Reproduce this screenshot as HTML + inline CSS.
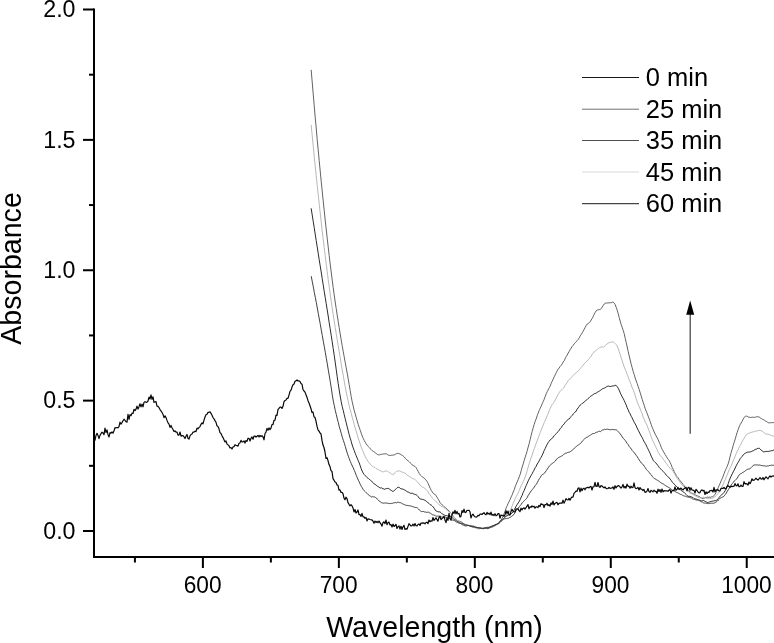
<!DOCTYPE html>
<html lang="en"><head><meta charset="utf-8"><title>Absorbance vs Wavelength</title>
<style>html,body{margin:0;padding:0;background:#fff;}body{width:774px;height:643px;overflow:hidden;}svg{display:block;}</style>
</head><body>
<svg width="774" height="643" viewBox="0 0 774 643">
<rect width="774" height="643" fill="#fff"/>
<defs><clipPath id="pc"><rect x="94" y="0" width="680" height="557"/></clipPath></defs>
<g clip-path="url(#pc)" fill="none" stroke-linejoin="round" stroke-linecap="round">
<path d="M311.2,70.2 L312.2,82.0 L313.2,93.9 L314.2,105.4 L315.2,117.1 L316.2,127.9 L317.2,139.5 L318.2,149.9 L319.2,160.6 L320.2,170.9 L321.2,181.3 L322.2,190.8 L323.2,200.8 L324.2,210.4 L325.2,220.1 L326.2,229.0 L327.2,238.2 L328.2,246.9 L329.2,255.7 L330.2,264.1 L331.2,272.0 L332.2,280.1 L333.2,287.6 L334.2,294.9 L335.2,302.0 L336.2,308.5 L337.2,315.1 L338.2,321.4 L339.2,327.7 L340.2,334.0 L341.2,339.8 L342.2,345.7 L343.2,351.3 L344.2,356.8 L345.2,362.3 L346.2,367.8 L347.2,373.1 L348.2,378.8 L349.2,384.6 L350.2,390.5 L351.2,396.7 L352.2,401.8 L353.2,406.1 L354.2,410.4 L355.2,413.8 L356.2,417.4 L357.2,420.9 L358.2,424.4 L359.2,427.2 L360.2,430.2 L361.2,433.2 L362.2,435.9 L363.2,438.3 L364.2,440.4 L365.2,442.2 L366.2,443.9 L367.2,445.2 L368.2,446.4 L369.2,447.5 L370.2,448.7 L371.2,449.5 L372.2,450.7 L373.2,451.3 L374.2,451.9 L375.2,452.8 L376.2,453.5 L377.2,454.3 L378.2,454.8 L379.2,455.0 L380.2,454.4 L381.2,454.3 L382.2,454.2 L383.2,454.0 L384.2,453.9 L385.2,453.8 L386.2,453.7 L387.2,454.4 L388.2,455.1 L389.2,455.3 L390.2,455.5 L391.2,455.3 L392.2,455.2 L393.2,455.1 L394.2,454.9 L395.2,454.4 L396.2,453.8 L397.2,453.3 L398.2,453.4 L399.2,453.6 L400.2,454.1 L401.2,454.7 L402.2,455.3 L403.2,456.1 L404.2,457.0 L405.2,458.1 L406.2,459.0 L407.2,460.0 L408.2,461.0 L409.2,461.8 L410.2,462.9 L411.2,463.7 L412.2,464.9 L413.2,465.5 L414.2,466.1 L415.2,466.5 L416.2,467.7 L417.2,469.6 L418.2,471.4 L419.2,473.4 L420.2,474.9 L421.2,475.8 L422.2,476.8 L423.2,477.5 L424.2,478.1 L425.2,479.3 L426.2,480.2 L427.2,481.8 L428.2,483.4 L429.2,486.0 L430.2,488.2 L431.2,490.3 L432.2,491.8 L433.2,493.3 L434.2,494.2 L435.2,494.4 L436.2,495.9 L437.2,497.5 L438.2,499.2 L439.2,500.9 L440.2,502.8 L441.2,503.9 L442.2,504.9 L443.2,505.6 L444.2,506.7 L445.2,507.5 L446.2,508.2 L447.2,509.3 L448.2,510.0 L449.2,511.2 L450.2,512.1 L451.2,513.4 L452.2,514.8 L453.2,516.4 L454.2,517.6 L455.2,518.6 L456.2,519.4 L457.2,520.2 L458.2,520.9 L459.2,521.1 L460.2,521.5 L461.2,521.9 L462.2,522.3 L463.2,523.5 L464.2,524.3 L465.2,524.4 L466.2,524.6 L467.2,524.8 L468.2,525.2 L469.2,525.7 L470.2,526.0 L471.2,526.6 L472.2,526.8 L473.2,527.2 L474.2,527.1 L475.2,527.1 L476.2,527.1 L477.2,527.5 L478.2,527.7 L479.2,528.4 L480.2,528.0 L481.2,528.2 L482.2,528.4 L483.2,528.5 L484.2,528.0 L485.2,528.0 L486.2,528.0 L487.2,528.3 L488.2,527.9 L489.2,527.8 L490.2,527.2 L491.2,526.5 L492.2,526.2 L493.2,525.7 L494.2,525.4 L495.2,524.9 L496.2,524.7 L497.2,524.6 L498.2,524.0 L499.2,523.1 L500.2,521.6 L501.2,520.1 L502.2,518.1 L503.2,516.0 L504.2,513.4 L505.2,510.8 L506.2,507.8 L507.2,505.7 L508.2,503.3 L509.2,501.3 L510.2,499.3 L511.2,496.9 L512.2,494.8 L513.2,492.0 L514.2,489.8 L515.2,486.7 L516.2,484.2 L517.2,481.9 L518.2,479.6 L519.2,476.9 L520.2,474.3 L521.2,470.6 L522.2,466.9 L523.2,463.9 L524.2,460.4 L525.2,457.1 L526.2,454.2 L527.2,450.7 L528.2,447.0 L529.2,443.5 L530.2,439.3 L531.2,435.3 L532.2,431.2 L533.2,427.8 L534.2,424.4 L535.2,421.3 L536.2,418.9 L537.2,415.6 L538.2,413.1 L539.2,410.5 L540.2,408.3 L541.2,406.1 L542.2,403.8 L543.2,401.6 L544.2,399.2 L545.2,396.4 L546.2,393.8 L547.2,391.7 L548.2,389.9 L549.2,387.8 L550.2,386.0 L551.2,383.4 L552.2,381.2 L553.2,379.1 L554.2,376.8 L555.2,374.8 L556.2,372.8 L557.2,370.8 L558.2,369.0 L559.2,368.0 L560.2,366.4 L561.2,365.3 L562.2,363.9 L563.2,361.9 L564.2,360.8 L565.2,358.6 L566.2,356.5 L567.2,355.1 L568.2,353.1 L569.2,351.4 L570.2,349.6 L571.2,348.1 L572.2,346.3 L573.2,345.3 L574.2,343.8 L575.2,342.7 L576.2,341.8 L577.2,340.6 L578.2,339.4 L579.2,337.9 L580.2,335.9 L581.2,334.4 L582.2,332.8 L583.2,331.1 L584.2,329.4 L585.2,327.3 L586.2,325.5 L587.2,324.0 L588.2,323.5 L589.2,322.6 L590.2,321.8 L591.2,320.0 L592.2,318.4 L593.2,316.5 L594.2,314.3 L595.2,312.4 L596.2,310.9 L597.2,309.9 L598.2,309.9 L599.2,309.6 L600.2,309.5 L601.2,308.7 L602.2,307.0 L603.2,305.5 L604.2,304.0 L605.2,303.2 L606.2,303.0 L607.2,303.0 L608.2,303.0 L609.2,302.7 L610.2,302.8 L611.2,302.8 L612.2,302.1 L613.2,302.1 L614.2,303.1 L615.2,304.7 L616.2,307.3 L617.2,310.1 L618.2,313.6 L619.2,317.6 L620.2,321.1 L621.2,324.5 L622.2,327.3 L623.2,330.5 L624.2,333.6 L625.2,338.3 L626.2,342.5 L627.2,347.0 L628.2,351.5 L629.2,355.9 L630.2,360.1 L631.2,364.2 L632.2,367.8 L633.2,371.5 L634.2,374.6 L635.2,377.9 L636.2,381.0 L637.2,383.5 L638.2,386.7 L639.2,389.5 L640.2,392.8 L641.2,396.0 L642.2,399.4 L643.2,402.3 L644.2,405.4 L645.2,408.6 L646.2,411.1 L647.2,413.5 L648.2,416.2 L649.2,418.8 L650.2,421.6 L651.2,424.5 L652.2,427.3 L653.2,429.5 L654.2,432.0 L655.2,434.1 L656.2,436.0 L657.2,437.8 L658.2,439.8 L659.2,442.2 L660.2,444.4 L661.2,447.2 L662.2,449.4 L663.2,451.1 L664.2,453.0 L665.2,454.5 L666.2,456.2 L667.2,457.9 L668.2,459.3 L669.2,460.7 L670.2,462.5 L671.2,464.8 L672.2,467.5 L673.2,469.3 L674.2,471.7 L675.2,473.4 L676.2,475.3 L677.2,476.8 L678.2,477.8 L679.2,479.6 L680.2,480.8 L681.2,482.0 L682.2,483.1 L683.2,484.6 L684.2,485.8 L685.2,487.6 L686.2,488.9 L687.2,490.3 L688.2,490.6 L689.2,491.0 L690.2,492.1 L691.2,492.9 L692.2,493.3 L693.2,493.6 L694.2,494.2 L695.2,494.8 L696.2,495.3 L697.2,495.8 L698.2,496.2 L699.2,496.5 L700.2,497.3 L701.2,497.8 L702.2,498.6 L703.2,498.3 L704.2,498.2 L705.2,497.6 L706.2,497.6 L707.2,497.0 L708.2,497.4 L709.2,497.1 L710.2,497.4 L711.2,496.9 L712.2,496.9 L713.2,496.3 L714.2,495.5 L715.2,494.0 L716.2,492.5 L717.2,490.0 L718.2,487.7 L719.2,485.4 L720.2,483.2 L721.2,480.7 L722.2,478.6 L723.2,476.1 L724.2,473.4 L725.2,470.7 L726.2,468.6 L727.2,466.3 L728.2,463.8 L729.2,460.3 L730.2,456.0 L731.2,452.4 L732.2,449.1 L733.2,445.5 L734.2,442.2 L735.2,439.2 L736.2,435.6 L737.2,432.3 L738.2,429.5 L739.2,426.8 L740.2,424.5 L741.2,423.0 L742.2,421.2 L743.2,419.2 L744.2,417.4 L745.2,416.5 L746.2,416.0 L747.2,416.4 L748.2,416.9 L749.2,417.2 L750.2,417.5 L751.2,417.4 L752.2,417.2 L753.2,417.2 L754.2,417.5 L755.2,417.1 L756.2,417.0 L757.2,416.6 L758.2,416.9 L759.2,417.0 L760.2,417.9 L761.2,418.3 L762.2,419.2 L763.2,419.6 L764.2,420.0 L765.2,420.9 L766.2,421.3 L767.2,422.0 L768.2,422.7 L769.2,422.8 L770.2,422.8 L771.2,422.7 L772.2,422.5 L773.2,422.7 L774.2,422.5" stroke="#626262" stroke-width="1.0"/>
<path d="M311.2,125.2 L312.2,135.7 L313.2,145.7 L314.2,156.4 L315.2,165.7 L316.2,175.6 L317.2,185.4 L318.2,194.5 L319.2,203.8 L320.2,212.8 L321.2,221.9 L322.2,230.9 L323.2,239.2 L324.2,247.4 L325.2,255.8 L326.2,263.7 L327.2,271.6 L328.2,279.4 L329.2,286.6 L330.2,294.0 L331.2,300.9 L332.2,307.8 L333.2,314.5 L334.2,320.9 L335.2,327.4 L336.2,333.6 L337.2,339.7 L338.2,345.7 L339.2,351.6 L340.2,357.7 L341.2,363.6 L342.2,369.9 L343.2,375.0 L344.2,381.1 L345.2,386.6 L346.2,392.0 L347.2,396.8 L348.2,401.2 L349.2,405.6 L350.2,409.6 L351.2,413.3 L352.2,417.2 L353.2,420.5 L354.2,424.6 L355.2,428.0 L356.2,431.1 L357.2,434.6 L358.2,437.9 L359.2,440.9 L360.2,444.0 L361.2,447.0 L362.2,449.5 L363.2,451.9 L364.2,454.3 L365.2,456.5 L366.2,458.6 L367.2,460.0 L368.2,461.6 L369.2,463.0 L370.2,464.0 L371.2,465.3 L372.2,466.2 L373.2,466.8 L374.2,467.4 L375.2,467.6 L376.2,468.6 L377.2,469.0 L378.2,469.4 L379.2,470.2 L380.2,470.7 L381.2,471.1 L382.2,471.8 L383.2,471.8 L384.2,471.6 L385.2,471.0 L386.2,471.2 L387.2,470.8 L388.2,471.8 L389.2,472.6 L390.2,472.9 L391.2,473.8 L392.2,474.3 L393.2,474.5 L394.2,473.9 L395.2,472.6 L396.2,471.5 L397.2,471.2 L398.2,470.9 L399.2,470.8 L400.2,471.3 L401.2,471.7 L402.2,472.1 L403.2,472.4 L404.2,472.9 L405.2,473.0 L406.2,474.3 L407.2,475.1 L408.2,475.7 L409.2,476.5 L410.2,476.6 L411.2,477.9 L412.2,478.4 L413.2,478.6 L414.2,479.1 L415.2,479.5 L416.2,480.7 L417.2,481.8 L418.2,482.9 L419.2,484.0 L420.2,485.2 L421.2,486.2 L422.2,486.9 L423.2,487.3 L424.2,488.0 L425.2,488.7 L426.2,489.6 L427.2,490.7 L428.2,492.0 L429.2,494.0 L430.2,495.0 L431.2,496.5 L432.2,497.9 L433.2,498.8 L434.2,499.8 L435.2,500.8 L436.2,501.8 L437.2,502.7 L438.2,503.5 L439.2,504.8 L440.2,505.3 L441.2,506.2 L442.2,506.7 L443.2,507.0 L444.2,507.8 L445.2,508.5 L446.2,509.6 L447.2,510.2 L448.2,511.3 L449.2,511.9 L450.2,512.3 L451.2,512.9 L452.2,514.3 L453.2,515.7 L454.2,517.1 L455.2,519.0 L456.2,519.5 L457.2,520.3 L458.2,520.8 L459.2,521.9 L460.2,522.7 L461.2,523.3 L462.2,523.7 L463.2,524.0 L464.2,524.0 L465.2,524.5 L466.2,524.4 L467.2,524.6 L468.2,524.9 L469.2,525.8 L470.2,526.1 L471.2,526.4 L472.2,527.0 L473.2,527.0 L474.2,527.3 L475.2,527.9 L476.2,528.5 L477.2,528.7 L478.2,528.8 L479.2,529.2 L480.2,528.3 L481.2,528.1 L482.2,527.3 L483.2,527.7 L484.2,527.9 L485.2,527.6 L486.2,527.3 L487.2,527.2 L488.2,526.8 L489.2,526.6 L490.2,526.9 L491.2,527.2 L492.2,527.1 L493.2,526.7 L494.2,526.4 L495.2,525.8 L496.2,524.9 L497.2,523.8 L498.2,523.1 L499.2,522.3 L500.2,521.7 L501.2,521.1 L502.2,520.2 L503.2,518.8 L504.2,517.7 L505.2,516.4 L506.2,515.9 L507.2,514.5 L508.2,513.4 L509.2,512.1 L510.2,510.3 L511.2,508.2 L512.2,505.9 L513.2,503.3 L514.2,501.0 L515.2,498.7 L516.2,496.5 L517.2,494.9 L518.2,492.9 L519.2,490.4 L520.2,488.1 L521.2,485.6 L522.2,483.8 L523.2,481.7 L524.2,479.3 L525.2,476.8 L526.2,474.0 L527.2,470.5 L528.2,467.1 L529.2,463.7 L530.2,460.4 L531.2,457.6 L532.2,455.0 L533.2,451.7 L534.2,448.7 L535.2,446.1 L536.2,443.2 L537.2,440.8 L538.2,437.8 L539.2,435.1 L540.2,432.5 L541.2,430.0 L542.2,427.7 L543.2,425.1 L544.2,422.6 L545.2,420.3 L546.2,418.1 L547.2,415.5 L548.2,413.7 L549.2,410.6 L550.2,408.4 L551.2,406.3 L552.2,404.6 L553.2,403.4 L554.2,401.8 L555.2,400.0 L556.2,398.2 L557.2,396.1 L558.2,394.4 L559.2,392.7 L560.2,391.2 L561.2,390.2 L562.2,389.4 L563.2,388.4 L564.2,387.1 L565.2,385.2 L566.2,383.9 L567.2,382.3 L568.2,380.7 L569.2,379.5 L570.2,378.6 L571.2,377.5 L572.2,376.6 L573.2,375.3 L574.2,374.3 L575.2,373.5 L576.2,372.7 L577.2,372.0 L578.2,370.9 L579.2,369.9 L580.2,368.6 L581.2,367.4 L582.2,366.3 L583.2,365.0 L584.2,363.9 L585.2,362.8 L586.2,361.8 L587.2,360.9 L588.2,359.8 L589.2,358.6 L590.2,357.2 L591.2,356.2 L592.2,354.4 L593.2,353.0 L594.2,352.0 L595.2,351.0 L596.2,350.2 L597.2,349.6 L598.2,348.6 L599.2,347.9 L600.2,347.5 L601.2,347.0 L602.2,346.8 L603.2,347.3 L604.2,346.6 L605.2,345.9 L606.2,345.0 L607.2,343.7 L608.2,343.1 L609.2,342.7 L610.2,342.4 L611.2,342.3 L612.2,342.0 L613.2,341.8 L614.2,342.5 L615.2,343.5 L616.2,344.5 L617.2,346.0 L618.2,348.5 L619.2,351.6 L620.2,354.5 L621.2,357.9 L622.2,360.7 L623.2,363.8 L624.2,366.9 L625.2,369.3 L626.2,371.7 L627.2,374.3 L628.2,376.9 L629.2,379.7 L630.2,382.0 L631.2,384.8 L632.2,387.9 L633.2,389.9 L634.2,392.3 L635.2,395.6 L636.2,398.6 L637.2,401.8 L638.2,404.3 L639.2,406.5 L640.2,409.0 L641.2,411.5 L642.2,413.9 L643.2,417.1 L644.2,419.4 L645.2,421.8 L646.2,423.5 L647.2,425.8 L648.2,428.3 L649.2,431.1 L650.2,433.9 L651.2,436.7 L652.2,439.4 L653.2,441.6 L654.2,443.6 L655.2,445.8 L656.2,447.6 L657.2,449.9 L658.2,452.2 L659.2,453.9 L660.2,455.6 L661.2,456.6 L662.2,457.8 L663.2,459.2 L664.2,460.3 L665.2,462.0 L666.2,463.2 L667.2,464.6 L668.2,466.1 L669.2,467.0 L670.2,468.5 L671.2,469.1 L672.2,469.9 L673.2,471.6 L674.2,473.3 L675.2,475.2 L676.2,476.7 L677.2,478.3 L678.2,479.8 L679.2,481.1 L680.2,482.4 L681.2,484.0 L682.2,484.9 L683.2,486.2 L684.2,487.2 L685.2,488.6 L686.2,489.7 L687.2,490.7 L688.2,491.5 L689.2,492.3 L690.2,493.1 L691.2,493.5 L692.2,494.1 L693.2,494.9 L694.2,495.5 L695.2,495.7 L696.2,496.4 L697.2,497.1 L698.2,497.3 L699.2,497.7 L700.2,498.1 L701.2,498.1 L702.2,497.5 L703.2,497.1 L704.2,497.3 L705.2,497.7 L706.2,498.3 L707.2,498.5 L708.2,498.7 L709.2,498.6 L710.2,498.6 L711.2,498.2 L712.2,498.4 L713.2,497.8 L714.2,497.2 L715.2,496.9 L716.2,495.7 L717.2,494.6 L718.2,493.2 L719.2,492.0 L720.2,490.3 L721.2,488.8 L722.2,486.5 L723.2,484.2 L724.2,481.6 L725.2,479.7 L726.2,477.2 L727.2,475.0 L728.2,472.3 L729.2,469.8 L730.2,467.8 L731.2,465.9 L732.2,463.3 L733.2,460.8 L734.2,458.5 L735.2,456.2 L736.2,453.6 L737.2,451.4 L738.2,449.3 L739.2,447.3 L740.2,445.5 L741.2,443.6 L742.2,441.4 L743.2,439.6 L744.2,438.1 L745.2,436.5 L746.2,435.0 L747.2,434.0 L748.2,433.3 L749.2,433.3 L750.2,432.6 L751.2,432.4 L752.2,432.2 L753.2,431.7 L754.2,431.7 L755.2,431.3 L756.2,430.9 L757.2,431.0 L758.2,430.6 L759.2,430.4 L760.2,430.4 L761.2,430.9 L762.2,431.0 L763.2,431.8 L764.2,432.9 L765.2,433.7 L766.2,434.1 L767.2,434.1 L768.2,434.2 L769.2,434.6 L770.2,434.9 L771.2,435.5 L772.2,435.8 L773.2,436.2 L774.2,435.6" stroke="#b8b8b8" stroke-width="1.0"/>
<path d="M311.2,208.7 L312.2,214.9 L313.2,221.3 L314.2,227.5 L315.2,234.1 L316.2,240.5 L317.2,246.9 L318.2,253.2 L319.2,259.6 L320.2,265.8 L321.2,271.9 L322.2,278.5 L323.2,284.8 L324.2,291.2 L325.2,297.3 L326.2,303.5 L327.2,309.8 L328.2,316.0 L329.2,322.7 L330.2,328.8 L331.2,335.2 L332.2,341.8 L333.2,348.5 L334.2,355.2 L335.2,362.1 L336.2,369.3 L337.2,376.7 L338.2,383.5 L339.2,390.0 L340.2,396.1 L341.2,401.6 L342.2,406.5 L343.2,410.3 L344.2,414.5 L345.2,418.7 L346.2,422.6 L347.2,426.8 L348.2,430.7 L349.2,434.7 L350.2,438.1 L351.2,441.3 L352.2,445.0 L353.2,447.9 L354.2,450.5 L355.2,453.3 L356.2,455.7 L357.2,458.1 L358.2,460.6 L359.2,462.8 L360.2,465.8 L361.2,468.7 L362.2,471.1 L363.2,473.1 L364.2,474.6 L365.2,475.7 L366.2,476.4 L367.2,477.7 L368.2,478.3 L369.2,479.3 L370.2,479.8 L371.2,480.9 L372.2,481.9 L373.2,482.7 L374.2,484.0 L375.2,484.4 L376.2,485.2 L377.2,486.0 L378.2,486.6 L379.2,487.4 L380.2,488.0 L381.2,487.7 L382.2,488.4 L383.2,488.7 L384.2,489.3 L385.2,489.0 L386.2,488.7 L387.2,488.4 L388.2,488.4 L389.2,488.7 L390.2,489.9 L391.2,490.3 L392.2,491.2 L393.2,491.3 L394.2,490.6 L395.2,489.8 L396.2,488.7 L397.2,487.7 L398.2,487.3 L399.2,487.4 L400.2,488.3 L401.2,488.8 L402.2,489.0 L403.2,489.2 L404.2,489.8 L405.2,490.2 L406.2,491.0 L407.2,491.7 L408.2,492.0 L409.2,492.5 L410.2,493.3 L411.2,493.3 L412.2,493.1 L413.2,493.7 L414.2,494.1 L415.2,494.5 L416.2,494.7 L417.2,495.5 L418.2,496.7 L419.2,498.2 L420.2,499.0 L421.2,499.2 L422.2,499.3 L423.2,499.5 L424.2,500.0 L425.2,500.4 L426.2,501.2 L427.2,502.1 L428.2,502.9 L429.2,503.6 L430.2,504.7 L431.2,505.0 L432.2,505.9 L433.2,506.9 L434.2,508.3 L435.2,510.0 L436.2,511.0 L437.2,511.5 L438.2,511.8 L439.2,511.8 L440.2,512.1 L441.2,512.8 L442.2,513.9 L443.2,514.5 L444.2,514.9 L445.2,515.5 L446.2,515.5 L447.2,515.8 L448.2,516.2 L449.2,516.1 L450.2,516.1 L451.2,516.8 L452.2,517.8 L453.2,518.7 L454.2,519.6 L455.2,519.9 L456.2,520.7 L457.2,521.3 L458.2,521.9 L459.2,522.7 L460.2,523.3 L461.2,523.8 L462.2,524.7 L463.2,524.9 L464.2,525.5 L465.2,525.8 L466.2,525.9 L467.2,525.6 L468.2,525.5 L469.2,525.6 L470.2,526.2 L471.2,526.3 L472.2,526.7 L473.2,526.8 L474.2,526.8 L475.2,527.6 L476.2,527.5 L477.2,527.5 L478.2,528.1 L479.2,527.8 L480.2,528.2 L481.2,528.5 L482.2,528.5 L483.2,528.4 L484.2,528.0 L485.2,527.9 L486.2,527.6 L487.2,527.7 L488.2,527.7 L489.2,527.5 L490.2,526.8 L491.2,526.5 L492.2,526.0 L493.2,525.6 L494.2,525.3 L495.2,524.6 L496.2,524.3 L497.2,523.8 L498.2,523.5 L499.2,523.1 L500.2,522.3 L501.2,521.3 L502.2,520.1 L503.2,519.2 L504.2,518.1 L505.2,517.1 L506.2,516.0 L507.2,515.7 L508.2,515.1 L509.2,514.6 L510.2,514.2 L511.2,513.8 L512.2,513.0 L513.2,511.7 L514.2,509.9 L515.2,508.0 L516.2,506.1 L517.2,504.5 L518.2,503.0 L519.2,501.5 L520.2,499.5 L521.2,497.2 L522.2,495.2 L523.2,492.4 L524.2,490.5 L525.2,487.9 L526.2,485.6 L527.2,483.3 L528.2,480.9 L529.2,478.9 L530.2,477.0 L531.2,475.4 L532.2,473.6 L533.2,471.6 L534.2,469.9 L535.2,467.7 L536.2,466.2 L537.2,464.0 L538.2,462.6 L539.2,460.8 L540.2,458.8 L541.2,457.2 L542.2,455.2 L543.2,453.0 L544.2,450.5 L545.2,448.6 L546.2,446.2 L547.2,444.4 L548.2,442.5 L549.2,441.2 L550.2,439.9 L551.2,439.0 L552.2,438.4 L553.2,437.0 L554.2,435.7 L555.2,434.6 L556.2,433.7 L557.2,432.4 L558.2,431.6 L559.2,430.2 L560.2,428.7 L561.2,427.7 L562.2,425.9 L563.2,425.0 L564.2,423.9 L565.2,422.4 L566.2,421.3 L567.2,420.2 L568.2,419.3 L569.2,419.0 L570.2,417.7 L571.2,416.4 L572.2,415.4 L573.2,414.0 L574.2,413.1 L575.2,412.0 L576.2,411.0 L577.2,409.1 L578.2,407.9 L579.2,406.4 L580.2,405.0 L581.2,404.4 L582.2,403.4 L583.2,403.0 L584.2,401.9 L585.2,401.0 L586.2,400.2 L587.2,399.6 L588.2,398.4 L589.2,397.7 L590.2,396.6 L591.2,395.9 L592.2,395.2 L593.2,394.6 L594.2,393.7 L595.2,393.5 L596.2,393.1 L597.2,392.3 L598.2,391.8 L599.2,391.2 L600.2,390.5 L601.2,389.8 L602.2,388.8 L603.2,388.6 L604.2,388.2 L605.2,387.7 L606.2,386.9 L607.2,386.5 L608.2,385.9 L609.2,386.4 L610.2,386.5 L611.2,386.3 L612.2,386.1 L613.2,385.9 L614.2,385.8 L615.2,385.3 L616.2,385.4 L617.2,386.7 L618.2,388.2 L619.2,390.1 L620.2,392.8 L621.2,394.8 L622.2,396.8 L623.2,398.5 L624.2,400.6 L625.2,402.8 L626.2,404.9 L627.2,407.8 L628.2,409.9 L629.2,412.3 L630.2,414.0 L631.2,416.3 L632.2,418.0 L633.2,420.1 L634.2,422.2 L635.2,423.9 L636.2,425.8 L637.2,428.1 L638.2,430.2 L639.2,432.0 L640.2,434.1 L641.2,436.0 L642.2,437.5 L643.2,439.7 L644.2,441.8 L645.2,443.3 L646.2,445.1 L647.2,447.4 L648.2,449.3 L649.2,451.5 L650.2,453.5 L651.2,456.1 L652.2,458.1 L653.2,460.3 L654.2,461.5 L655.2,462.5 L656.2,463.2 L657.2,464.8 L658.2,465.6 L659.2,467.4 L660.2,468.5 L661.2,469.3 L662.2,470.5 L663.2,471.4 L664.2,472.5 L665.2,473.7 L666.2,475.1 L667.2,475.9 L668.2,476.9 L669.2,477.9 L670.2,479.1 L671.2,480.4 L672.2,482.1 L673.2,483.0 L674.2,484.1 L675.2,485.2 L676.2,486.1 L677.2,487.2 L678.2,488.0 L679.2,489.1 L680.2,489.5 L681.2,490.4 L682.2,491.0 L683.2,491.9 L684.2,492.4 L685.2,493.6 L686.2,494.5 L687.2,495.6 L688.2,496.4 L689.2,496.3 L690.2,496.4 L691.2,496.7 L692.2,497.3 L693.2,497.6 L694.2,498.6 L695.2,498.9 L696.2,499.1 L697.2,499.4 L698.2,499.8 L699.2,500.1 L700.2,500.5 L701.2,500.9 L702.2,500.8 L703.2,500.4 L704.2,500.9 L705.2,501.3 L706.2,501.9 L707.2,502.4 L708.2,502.4 L709.2,502.2 L710.2,501.6 L711.2,501.4 L712.2,501.2 L713.2,501.1 L714.2,500.7 L715.2,500.8 L716.2,500.4 L717.2,499.9 L718.2,498.7 L719.2,497.4 L720.2,496.2 L721.2,495.2 L722.2,494.2 L723.2,493.5 L724.2,492.3 L725.2,490.6 L726.2,488.8 L727.2,486.3 L728.2,483.8 L729.2,480.8 L730.2,478.1 L731.2,476.0 L732.2,473.9 L733.2,471.9 L734.2,470.1 L735.2,468.0 L736.2,465.8 L737.2,463.9 L738.2,462.3 L739.2,460.6 L740.2,458.6 L741.2,457.5 L742.2,456.3 L743.2,454.9 L744.2,454.0 L745.2,453.3 L746.2,452.8 L747.2,452.2 L748.2,452.1 L749.2,452.1 L750.2,451.9 L751.2,451.7 L752.2,451.0 L753.2,450.8 L754.2,450.1 L755.2,449.4 L756.2,449.3 L757.2,448.6 L758.2,448.3 L759.2,448.2 L760.2,449.0 L761.2,450.0 L762.2,451.0 L763.2,451.8 L764.2,451.8 L765.2,451.5 L766.2,451.6 L767.2,451.4 L768.2,451.4 L769.2,451.3 L770.2,451.0 L771.2,450.7 L772.2,450.8 L773.2,450.1 L774.2,450.2" stroke="#2a2a2a" stroke-width="1.0"/>
<path d="M311.3,276.6 L312.3,281.8 L313.3,286.8 L314.3,292.3 L315.3,297.4 L316.3,302.5 L317.3,308.0 L318.3,313.6 L319.3,319.0 L320.3,324.3 L321.3,330.1 L322.3,335.6 L323.3,341.2 L324.3,346.8 L325.3,352.3 L326.3,358.2 L327.3,363.9 L328.3,370.1 L329.3,375.9 L330.3,381.9 L331.3,388.1 L332.3,395.1 L333.3,401.1 L334.3,405.7 L335.3,410.6 L336.3,414.5 L337.3,418.9 L338.3,422.5 L339.3,426.8 L340.3,430.0 L341.3,433.6 L342.3,437.2 L343.3,440.3 L344.3,443.2 L345.3,446.5 L346.3,450.0 L347.3,453.3 L348.3,456.2 L349.3,458.8 L350.3,461.5 L351.3,463.6 L352.3,466.0 L353.3,467.9 L354.3,470.4 L355.3,472.8 L356.3,475.4 L357.3,477.7 L358.3,480.2 L359.3,482.1 L360.3,484.4 L361.3,486.4 L362.3,487.8 L363.3,489.6 L364.3,490.8 L365.3,491.7 L366.3,492.8 L367.3,493.5 L368.3,494.7 L369.3,495.5 L370.3,496.1 L371.3,496.9 L372.3,496.8 L373.3,496.8 L374.3,496.8 L375.3,497.4 L376.3,497.9 L377.3,499.2 L378.3,500.0 L379.3,501.0 L380.3,502.0 L381.3,502.6 L382.3,502.9 L383.3,503.2 L384.3,502.9 L385.3,503.1 L386.3,503.1 L387.3,503.1 L388.3,503.4 L389.3,503.6 L390.3,503.5 L391.3,503.4 L392.3,503.4 L393.3,502.9 L394.3,502.8 L395.3,502.5 L396.3,502.9 L397.3,502.4 L398.3,502.2 L399.3,502.6 L400.3,502.6 L401.3,503.1 L402.3,503.7 L403.3,504.2 L404.3,504.6 L405.3,505.1 L406.3,505.3 L407.3,505.4 L408.3,505.7 L409.3,505.7 L410.3,505.9 L411.3,506.2 L412.3,506.5 L413.3,506.9 L414.3,507.1 L415.3,507.5 L416.3,507.4 L417.3,507.9 L418.3,508.8 L419.3,510.0 L420.3,510.8 L421.3,511.6 L422.3,511.5 L423.3,511.4 L424.3,511.9 L425.3,512.0 L426.3,512.3 L427.3,512.3 L428.3,512.1 L429.3,512.7 L430.3,513.2 L431.3,513.9 L432.3,514.7 L433.3,514.9 L434.3,515.2 L435.3,515.8 L436.3,516.1 L437.3,516.1 L438.3,516.2 L439.3,516.1 L440.3,516.2 L441.3,517.0 L442.3,517.0 L443.3,516.8 L444.3,516.6 L445.3,517.1 L446.3,517.4 L447.3,517.8 L448.3,518.3 L449.3,518.6 L450.3,519.1 L451.3,519.7 L452.3,520.0 L453.3,520.3 L454.3,520.5 L455.3,521.3 L456.3,521.9 L457.3,522.5 L458.3,522.9 L459.3,523.1 L460.3,523.3 L461.3,523.2 L462.3,523.4 L463.3,523.6 L464.3,524.2 L465.3,524.8 L466.3,524.9 L467.3,525.5 L468.3,525.5 L469.3,525.7 L470.3,525.8 L471.3,525.8 L472.3,526.1 L473.3,525.9 L474.3,526.4 L475.3,527.0 L476.3,527.3 L477.3,527.7 L478.3,527.5 L479.3,527.8 L480.3,527.8 L481.3,528.2 L482.3,528.5 L483.3,528.8 L484.3,528.5 L485.3,528.5 L486.3,528.2 L487.3,528.7 L488.3,528.4 L489.3,528.1 L490.3,527.5 L491.3,527.2 L492.3,526.9 L493.3,526.2 L494.3,525.8 L495.3,525.4 L496.3,524.8 L497.3,524.0 L498.3,523.0 L499.3,522.3 L500.3,520.6 L501.3,520.0 L502.3,519.6 L503.3,519.3 L504.3,518.9 L505.3,518.7 L506.3,518.6 L507.3,518.3 L508.3,518.3 L509.3,517.7 L510.3,517.3 L511.3,516.7 L512.3,516.0 L513.3,515.0 L514.3,513.8 L515.3,512.0 L516.3,510.3 L517.3,508.9 L518.3,508.3 L519.3,506.7 L520.3,505.5 L521.3,504.3 L522.3,502.6 L523.3,501.6 L524.3,500.7 L525.3,499.7 L526.3,498.8 L527.3,497.4 L528.3,495.2 L529.3,493.9 L530.3,492.2 L531.3,490.8 L532.3,489.6 L533.3,488.3 L534.3,487.1 L535.3,485.4 L536.3,484.2 L537.3,482.6 L538.3,480.6 L539.3,478.7 L540.3,477.4 L541.3,475.5 L542.3,474.7 L543.3,474.1 L544.3,473.4 L545.3,472.0 L546.3,470.6 L547.3,469.1 L548.3,467.6 L549.3,466.0 L550.3,465.1 L551.3,464.2 L552.3,463.5 L553.3,462.7 L554.3,462.0 L555.3,461.1 L556.3,459.4 L557.3,458.7 L558.3,457.8 L559.3,457.2 L560.3,456.8 L561.3,456.2 L562.3,455.7 L563.3,454.7 L564.3,454.0 L565.3,453.3 L566.3,453.2 L567.3,452.6 L568.3,452.3 L569.3,452.2 L570.3,451.6 L571.3,450.9 L572.3,450.2 L573.3,449.4 L574.3,448.2 L575.3,447.3 L576.3,446.5 L577.3,445.7 L578.3,445.1 L579.3,444.3 L580.3,443.6 L581.3,442.5 L582.3,441.1 L583.3,440.2 L584.3,439.3 L585.3,438.1 L586.3,437.4 L587.3,437.2 L588.3,436.4 L589.3,435.9 L590.3,435.2 L591.3,434.6 L592.3,433.8 L593.3,433.5 L594.3,433.6 L595.3,432.8 L596.3,432.3 L597.3,432.2 L598.3,431.6 L599.3,431.2 L600.3,431.7 L601.3,430.8 L602.3,430.1 L603.3,430.0 L604.3,429.3 L605.3,429.5 L606.3,429.3 L607.3,429.2 L608.3,429.4 L609.3,429.6 L610.3,429.7 L611.3,429.7 L612.3,429.4 L613.3,429.5 L614.3,429.8 L615.3,429.7 L616.3,429.8 L617.3,430.7 L618.3,431.7 L619.3,432.8 L620.3,433.9 L621.3,435.4 L622.3,437.0 L623.3,438.4 L624.3,439.3 L625.3,440.6 L626.3,442.0 L627.3,443.6 L628.3,444.7 L629.3,446.7 L630.3,447.7 L631.3,449.1 L632.3,450.6 L633.3,451.6 L634.3,452.9 L635.3,454.0 L636.3,455.5 L637.3,456.8 L638.3,458.5 L639.3,460.1 L640.3,461.5 L641.3,463.0 L642.3,463.9 L643.3,464.6 L644.3,466.4 L645.3,467.7 L646.3,469.4 L647.3,470.4 L648.3,471.4 L649.3,472.6 L650.3,474.0 L651.3,474.9 L652.3,476.4 L653.3,477.5 L654.3,478.6 L655.3,479.0 L656.3,479.6 L657.3,480.2 L658.3,480.8 L659.3,481.5 L660.3,482.3 L661.3,483.0 L662.3,483.6 L663.3,483.9 L664.3,484.7 L665.3,485.5 L666.3,486.1 L667.3,486.7 L668.3,487.2 L669.3,487.8 L670.3,488.3 L671.3,489.2 L672.3,490.4 L673.3,490.8 L674.3,491.0 L675.3,491.6 L676.3,492.3 L677.3,492.6 L678.3,493.1 L679.3,493.7 L680.3,494.4 L681.3,494.5 L682.3,495.1 L683.3,495.7 L684.3,496.0 L685.3,496.2 L686.3,496.7 L687.3,496.9 L688.3,497.1 L689.3,497.3 L690.3,497.7 L691.3,497.9 L692.3,498.8 L693.3,499.2 L694.3,499.2 L695.3,499.7 L696.3,500.0 L697.3,500.1 L698.3,500.0 L699.3,500.6 L700.3,501.1 L701.3,501.8 L702.3,502.0 L703.3,502.8 L704.3,503.0 L705.3,503.1 L706.3,503.3 L707.3,503.4 L708.3,503.7 L709.3,503.5 L710.3,503.3 L711.3,503.2 L712.3,503.2 L713.3,503.3 L714.3,503.0 L715.3,502.5 L716.3,501.9 L717.3,501.1 L718.3,500.1 L719.3,499.2 L720.3,498.0 L721.3,497.6 L722.3,497.1 L723.3,496.8 L724.3,495.8 L725.3,494.5 L726.3,493.0 L727.3,491.1 L728.3,489.7 L729.3,488.1 L730.3,486.5 L731.3,484.9 L732.3,483.6 L733.3,482.4 L734.3,481.0 L735.3,480.3 L736.3,479.3 L737.3,478.0 L738.3,476.2 L739.3,474.8 L740.3,473.8 L741.3,473.5 L742.3,472.6 L743.3,472.2 L744.3,471.6 L745.3,470.8 L746.3,470.0 L747.3,469.4 L748.3,469.1 L749.3,469.0 L750.3,468.4 L751.3,467.5 L752.3,466.5 L753.3,465.3 L754.3,465.0 L755.3,464.9 L756.3,464.9 L757.3,465.0 L758.3,465.2 L759.3,464.9 L760.3,465.2 L761.3,465.5 L762.3,465.6 L763.3,465.8 L764.3,465.9 L765.3,465.9 L766.3,466.3 L767.3,465.9 L768.3,466.0 L769.3,465.5 L770.3,465.5 L771.3,465.2 L772.3,465.2 L773.3,465.3 L774.3,465.0" stroke="#404040" stroke-width="1.0"/>
<path d="M94.0,437.5 L95.0,440.3 L96.0,435.4 L97.0,433.3 L98.0,435.4 L99.0,438.6 L100.0,435.4 L101.0,433.7 L102.0,432.2 L103.0,432.9 L104.0,434.7 L105.0,428.2 L106.0,432.6 L107.0,429.9 L108.0,434.7 L109.0,437.0 L110.0,432.6 L111.0,433.2 L112.0,432.0 L113.0,433.2 L114.0,430.7 L115.0,427.7 L116.0,427.8 L117.0,427.5 L118.0,427.8 L119.0,426.7 L120.0,422.2 L121.0,424.1 L122.0,422.6 L123.0,420.8 L124.0,419.2 L125.0,420.3 L126.0,421.7 L127.0,422.2 L128.0,414.4 L129.0,419.4 L130.0,414.6 L131.0,415.7 L132.0,413.2 L133.0,413.5 L134.0,409.3 L135.0,410.7 L136.0,409.2 L137.0,406.1 L138.0,409.1 L139.0,406.7 L140.0,403.8 L141.0,406.9 L142.0,404.1 L143.0,406.8 L144.0,402.4 L145.0,401.6 L146.0,402.4 L147.0,402.1 L148.0,401.0 L149.0,397.1 L150.0,399.0 L151.0,394.9 L152.0,399.4 L153.0,396.8 L154.0,402.3 L155.0,401.9 L156.0,401.6 L157.0,406.1 L158.0,406.4 L159.0,407.6 L160.0,409.6 L161.0,410.9 L162.0,412.5 L163.0,414.3 L164.0,417.6 L165.0,415.8 L166.0,417.6 L167.0,420.4 L168.0,422.9 L169.0,424.1 L170.0,427.4 L171.0,425.4 L172.0,427.8 L173.0,429.5 L174.0,431.5 L175.0,430.8 L176.0,432.2 L177.0,432.0 L178.0,435.1 L179.0,435.1 L180.0,432.0 L181.0,436.2 L182.0,435.5 L183.0,435.7 L184.0,436.8 L185.0,438.5 L186.0,436.3 L187.0,434.5 L188.0,438.3 L189.0,439.1 L190.0,435.8 L191.0,434.5 L192.0,434.0 L193.0,432.0 L194.0,432.1 L195.0,431.1 L196.0,431.7 L197.0,428.1 L198.0,428.8 L199.0,427.5 L200.0,426.6 L201.0,424.3 L202.0,422.8 L203.0,423.8 L204.0,420.1 L205.0,417.0 L206.0,414.8 L207.0,414.2 L208.0,412.4 L209.0,412.3 L210.0,411.8 L211.0,413.3 L212.0,415.3 L213.0,417.5 L214.0,418.8 L215.0,420.6 L216.0,422.3 L217.0,425.8 L218.0,426.6 L219.0,428.8 L220.0,432.6 L221.0,433.5 L222.0,435.7 L223.0,437.6 L224.0,439.8 L225.0,442.0 L226.0,441.0 L227.0,444.1 L228.0,444.9 L229.0,445.7 L230.0,448.0 L231.0,447.5 L232.0,449.0 L233.0,446.9 L234.0,446.7 L235.0,444.7 L236.0,445.2 L237.0,445.6 L238.0,446.1 L239.0,443.2 L240.0,442.9 L241.0,440.4 L242.0,441.8 L243.0,441.8 L244.0,440.8 L245.0,443.1 L246.0,440.5 L247.0,441.4 L248.0,438.3 L249.0,438.3 L250.0,441.0 L251.0,438.3 L252.0,436.9 L253.0,439.2 L254.0,436.2 L255.0,436.0 L256.0,437.1 L257.0,436.2 L258.0,435.4 L259.0,437.0 L260.0,435.4 L261.0,436.7 L262.0,435.7 L263.0,436.8 L264.0,439.8 L265.0,433.5 L266.0,432.1 L267.0,428.3 L268.0,430.2 L269.0,427.9 L270.0,429.7 L271.0,428.2 L272.0,424.6 L273.0,424.5 L274.0,420.4 L275.0,420.2 L276.0,415.2 L277.0,415.3 L278.0,409.5 L279.0,408.4 L280.0,407.2 L281.0,407.1 L282.0,408.4 L283.0,406.3 L284.0,401.6 L285.0,400.5 L286.0,400.0 L287.0,398.4 L288.0,398.3 L289.0,395.1 L290.0,391.3 L291.0,390.2 L292.0,387.1 L293.0,384.8 L294.0,384.1 L295.0,381.3 L296.0,380.9 L297.0,380.0 L298.0,381.0 L299.0,380.8 L300.0,381.6 L301.0,383.6 L302.0,384.2 L303.0,389.5 L304.0,391.0 L305.0,392.1 L306.0,394.8 L307.0,397.3 L308.0,400.7 L309.0,402.9 L310.0,405.7 L311.0,408.7 L312.0,412.5 L313.0,412.0 L314.0,416.8 L315.0,417.5 L316.0,421.1 L317.0,426.2 L318.0,429.9 L319.0,431.1 L320.0,432.9 L321.0,434.0 L322.0,440.4 L323.0,445.1 L324.0,447.5 L325.0,452.0 L326.0,458.5 L327.0,457.6 L328.0,460.6 L329.0,464.6 L330.0,466.6 L331.0,470.6 L332.0,471.5 L333.0,478.7 L334.0,480.2 L335.0,481.9 L336.0,482.6 L337.0,484.9 L338.0,485.3 L339.0,490.1 L340.0,489.9 L341.0,492.5 L342.0,492.4 L343.0,493.7 L344.0,498.1 L345.0,499.7 L346.0,497.2 L347.0,498.6 L348.0,502.6 L349.0,504.3 L350.0,505.8 L351.0,504.6 L352.0,505.8 L353.0,507.9 L354.0,511.9 L355.0,509.5 L356.0,513.0 L357.0,512.0 L358.0,510.0 L359.0,514.6 L360.0,514.5 L361.0,516.4 L362.0,513.4 L363.0,516.9 L364.0,516.9 L365.0,518.3 L366.0,517.3 L367.0,520.9 L368.0,518.8 L369.0,519.1 L370.0,519.5 L371.0,519.8 L372.0,519.8 L373.0,521.1 L374.0,523.2 L375.0,521.1 L376.0,522.5 L377.0,521.3 L378.0,522.7 L379.0,521.1 L380.0,522.6 L381.0,524.1 L382.0,526.2 L383.0,522.7 L384.0,521.8 L385.0,523.6 L386.0,520.0 L387.0,524.6 L388.0,522.7 L389.0,522.1 L390.0,525.0 L391.0,524.6 L392.0,527.0 L393.0,524.1 L394.0,526.5 L395.0,525.5 L396.0,524.5 L397.0,528.5 L398.0,526.8 L399.0,525.9 L400.0,529.1 L401.0,526.2 L402.0,529.5 L403.0,526.8 L404.0,525.3 L405.0,529.5 L406.0,528.6 L407.0,529.2 L408.0,526.4 L409.0,523.7 L410.0,524.8 L411.0,526.0 L412.0,525.7 L413.0,524.2 L414.0,525.9 L415.0,523.6 L416.0,525.7 L417.0,525.8 L418.0,524.5 L419.0,523.9 L420.0,525.4 L421.0,523.1 L422.0,523.1 L423.0,522.9 L424.0,523.1 L425.0,523.8 L426.0,522.5 L427.0,522.2 L428.0,523.7 L429.0,520.0 L430.0,521.7 L431.0,520.8 L432.0,521.2 L433.0,517.5 L434.0,520.5 L435.0,519.1 L436.0,517.8 L437.0,519.7 L438.0,521.2 L439.0,517.5 L440.0,516.5 L441.0,519.6 L442.0,518.6 L443.0,517.8 L444.0,516.4 L445.0,520.2 L446.0,522.6 L447.0,517.9 L448.0,520.4 L449.0,513.3 L450.0,518.2 L451.0,520.2 L452.0,514.7 L453.0,511.9 L454.0,513.5 L455.0,510.3 L456.0,513.8 L457.0,511.4 L458.0,514.0 L459.0,513.4 L460.0,517.0 L461.0,516.2 L462.0,510.6 L463.0,512.4 L464.0,509.1 L465.0,512.6 L466.0,512.3 L467.0,510.3 L468.0,510.5 L469.0,510.2 L470.0,511.8 L471.0,518.0 L472.0,515.1 L473.0,514.1 L474.0,515.9 L475.0,516.8 L476.0,517.2 L477.0,516.7 L478.0,515.3 L479.0,515.8 L480.0,514.2 L481.0,514.1 L482.0,514.5 L483.0,513.4 L484.0,512.7 L485.0,514.2 L486.0,514.8 L487.0,512.4 L488.0,514.1 L489.0,513.1 L490.0,514.7 L491.0,512.1 L492.0,515.3 L493.0,514.5 L494.0,515.5 L495.0,513.7 L496.0,515.8 L497.0,515.2 L498.0,513.6 L499.0,513.6 L500.0,518.2 L501.0,515.0 L502.0,515.5 L503.0,515.4 L504.0,516.3 L505.0,514.9 L506.0,510.6 L507.0,513.8 L508.0,511.0 L509.0,514.6 L510.0,515.1 L511.0,511.5 L512.0,509.2 L513.0,511.1 L514.0,511.8 L515.0,512.0 L516.0,508.9 L517.0,509.0 L518.0,508.7 L519.0,510.6 L520.0,511.7 L521.0,508.2 L522.0,509.9 L523.0,508.4 L524.0,507.8 L525.0,509.1 L526.0,507.7 L527.0,506.1 L528.0,504.6 L529.0,508.8 L530.0,506.8 L531.0,507.3 L532.0,505.8 L533.0,506.8 L534.0,506.2 L535.0,508.2 L536.0,506.9 L537.0,506.9 L538.0,507.6 L539.0,505.3 L540.0,506.6 L541.0,503.7 L542.0,504.5 L543.0,504.4 L544.0,507.6 L545.0,504.5 L546.0,504.8 L547.0,503.2 L548.0,505.7 L549.0,504.6 L550.0,506.2 L551.0,502.9 L552.0,504.5 L553.0,501.1 L554.0,505.0 L555.0,503.4 L556.0,502.8 L557.0,502.4 L558.0,504.8 L559.0,503.3 L560.0,503.1 L561.0,503.0 L562.0,503.3 L563.0,500.1 L564.0,503.1 L565.0,501.3 L566.0,498.6 L567.0,499.7 L568.0,500.0 L569.0,498.4 L570.0,500.2 L571.0,498.2 L572.0,497.0 L573.0,497.1 L574.0,493.4 L575.0,492.3 L576.0,491.0 L577.0,491.4 L578.0,488.2 L579.0,487.8 L580.0,491.8 L581.0,488.1 L582.0,490.8 L583.0,488.8 L584.0,488.2 L585.0,489.8 L586.0,487.9 L587.0,487.6 L588.0,487.2 L589.0,487.9 L590.0,486.8 L591.0,486.4 L592.0,490.0 L593.0,486.8 L594.0,486.6 L595.0,482.4 L596.0,486.5 L597.0,486.5 L598.0,482.5 L599.0,486.5 L600.0,487.4 L601.0,485.6 L602.0,486.0 L603.0,487.0 L604.0,487.8 L605.0,486.8 L606.0,488.3 L607.0,488.8 L608.0,488.5 L609.0,487.4 L610.0,488.3 L611.0,488.2 L612.0,488.0 L613.0,486.9 L614.0,489.3 L615.0,485.7 L616.0,487.9 L617.0,486.4 L618.0,485.7 L619.0,485.8 L620.0,486.9 L621.0,488.1 L622.0,486.8 L623.0,484.4 L624.0,487.8 L625.0,486.4 L626.0,488.1 L627.0,484.2 L628.0,486.3 L629.0,486.2 L630.0,488.1 L631.0,486.2 L632.0,487.6 L633.0,487.4 L634.0,482.9 L635.0,487.6 L636.0,488.6 L637.0,488.3 L638.0,487.5 L639.0,490.0 L640.0,487.5 L641.0,489.1 L642.0,489.4 L643.0,490.6 L644.0,489.4 L645.0,492.4 L646.0,492.1 L647.0,491.1 L648.0,488.5 L649.0,491.6 L650.0,492.4 L651.0,490.3 L652.0,491.1 L653.0,491.8 L654.0,490.2 L655.0,491.3 L656.0,491.4 L657.0,493.3 L658.0,489.2 L659.0,491.4 L660.0,489.6 L661.0,492.4 L662.0,489.0 L663.0,491.9 L664.0,490.7 L665.0,490.8 L666.0,490.8 L667.0,490.8 L668.0,491.3 L669.0,490.2 L670.0,489.6 L671.0,493.1 L672.0,490.8 L673.0,490.2 L674.0,490.6 L675.0,486.9 L676.0,490.3 L677.0,489.4 L678.0,487.4 L679.0,489.6 L680.0,488.6 L681.0,488.1 L682.0,489.4 L683.0,489.8 L684.0,488.7 L685.0,488.1 L686.0,487.2 L687.0,490.8 L688.0,487.6 L689.0,487.3 L690.0,490.3 L691.0,487.7 L692.0,489.9 L693.0,490.3 L694.0,490.4 L695.0,493.0 L696.0,489.4 L697.0,490.5 L698.0,491.8 L699.0,492.9 L700.0,492.6 L701.0,490.6 L702.0,489.8 L703.0,490.9 L704.0,490.3 L705.0,494.5 L706.0,491.9 L707.0,493.6 L708.0,492.2 L709.0,492.4 L710.0,490.5 L711.0,490.6 L712.0,490.4 L713.0,492.0 L714.0,487.4 L715.0,492.0 L716.0,489.7 L717.0,490.1 L718.0,489.7 L719.0,491.0 L720.0,490.9 L721.0,488.4 L722.0,488.4 L723.0,488.5 L724.0,487.4 L725.0,488.6 L726.0,488.7 L727.0,486.4 L728.0,485.7 L729.0,486.4 L730.0,487.3 L731.0,486.1 L732.0,486.7 L733.0,486.3 L734.0,486.2 L735.0,483.6 L736.0,485.6 L737.0,485.8 L738.0,483.9 L739.0,486.7 L740.0,486.5 L741.0,485.1 L742.0,486.3 L743.0,486.3 L744.0,481.7 L745.0,483.8 L746.0,483.7 L747.0,483.9 L748.0,485.0 L749.0,482.0 L750.0,483.7 L751.0,481.7 L752.0,478.8 L753.0,480.3 L754.0,480.2 L755.0,479.4 L756.0,478.2 L757.0,479.3 L758.0,480.0 L759.0,478.8 L760.0,477.5 L761.0,478.9 L762.0,479.2 L763.0,477.5 L764.0,479.8 L765.0,478.1 L766.0,476.8 L767.0,477.8 L768.0,478.8 L769.0,477.2 L770.0,475.9 L771.0,477.0 L772.0,476.1 L773.0,476.2 L774.0,475.8 L775.0,473.7" stroke="#080808" stroke-width="1.2"/>
</g>
<g fill="#000">
<rect x="93" y="8.5" width="2" height="549.5"/>
<rect x="93" y="556" width="681" height="2"/>
<rect x="83" y="530.00" width="11" height="2"/>
<rect x="89" y="464.81" width="5" height="2"/>
<rect x="83" y="399.62" width="11" height="2"/>
<rect x="89" y="334.44" width="5" height="2"/>
<rect x="83" y="269.25" width="11" height="2"/>
<rect x="89" y="204.06" width="5" height="2"/>
<rect x="83" y="138.88" width="11" height="2"/>
<rect x="89" y="73.69" width="5" height="2"/>
<rect x="83" y="8.50" width="11" height="2"/>
<rect x="133.92" y="557" width="2" height="5.5"/>
<rect x="201.90" y="557" width="2" height="11"/>
<rect x="269.88" y="557" width="2" height="5.5"/>
<rect x="337.86" y="557" width="2" height="11"/>
<rect x="405.84" y="557" width="2" height="5.5"/>
<rect x="473.82" y="557" width="2" height="11"/>
<rect x="541.80" y="557" width="2" height="5.5"/>
<rect x="609.78" y="557" width="2" height="11"/>
<rect x="677.76" y="557" width="2" height="5.5"/>
<rect x="745.74" y="557" width="2" height="11"/>
</g>
<g font-family="'Liberation Sans', Arial, sans-serif" fill="#000">
<text transform="translate(75.5,538.6) scale(0.94,1)" font-size="24.7" text-anchor="end">0.0</text>
<text transform="translate(75.5,408.2) scale(0.94,1)" font-size="24.7" text-anchor="end">0.5</text>
<text transform="translate(75.5,277.9) scale(0.94,1)" font-size="24.7" text-anchor="end">1.0</text>
<text transform="translate(75.5,147.5) scale(0.94,1)" font-size="24.7" text-anchor="end">1.5</text>
<text transform="translate(75.5,17.1) scale(0.94,1)" font-size="24.7" text-anchor="end">2.0</text>
<text transform="translate(202.6,592.5) scale(0.92,1)" font-size="24.7" text-anchor="middle">600</text>
<text transform="translate(338.6,592.5) scale(0.92,1)" font-size="24.7" text-anchor="middle">700</text>
<text transform="translate(474.5,592.5) scale(0.92,1)" font-size="24.7" text-anchor="middle">800</text>
<text transform="translate(610.5,592.5) scale(0.92,1)" font-size="24.7" text-anchor="middle">900</text>
<text transform="translate(746.4,592.5) scale(0.92,1)" font-size="24.7" text-anchor="middle">1000</text>
<text transform="translate(434.5,636.5) scale(1.0,1)" font-size="28.6" text-anchor="middle">Wavelength (nm)</text>
<text transform="translate(21.2,268.5) rotate(-90) scale(1.0,1)" font-size="28.6" text-anchor="middle">Absorbance</text>
<line x1="582" y1="77.5" x2="639" y2="77.5" stroke="#1a1a1a" stroke-width="1"/>
<text transform="translate(645.8,86.0) scale(0.98,1)" font-size="26">0 min</text>
<line x1="582" y1="109.2" x2="639" y2="109.2" stroke="#707070" stroke-width="1"/>
<text transform="translate(645.8,117.7) scale(0.98,1)" font-size="26">25 min</text>
<line x1="582" y1="140.5" x2="639" y2="140.5" stroke="#505050" stroke-width="1"/>
<text transform="translate(645.8,149.0) scale(0.98,1)" font-size="26">35 min</text>
<line x1="582" y1="172" x2="639" y2="172" stroke="#d8d8d8" stroke-width="1"/>
<text transform="translate(645.8,180.5) scale(0.98,1)" font-size="26">45 min</text>
<line x1="582" y1="203.7" x2="639" y2="203.7" stroke="#1a1a1a" stroke-width="1"/>
<text transform="translate(645.8,212.2) scale(0.98,1)" font-size="26">60 min</text>
</g>
<line x1="690.2" y1="312" x2="690.2" y2="433.8" stroke="#3a3a3a" stroke-width="1.2"/>
<polygon points="690.2,300.5 686.2,314.7 694.2,314.7" fill="#000"/>
</svg>
</body></html>
